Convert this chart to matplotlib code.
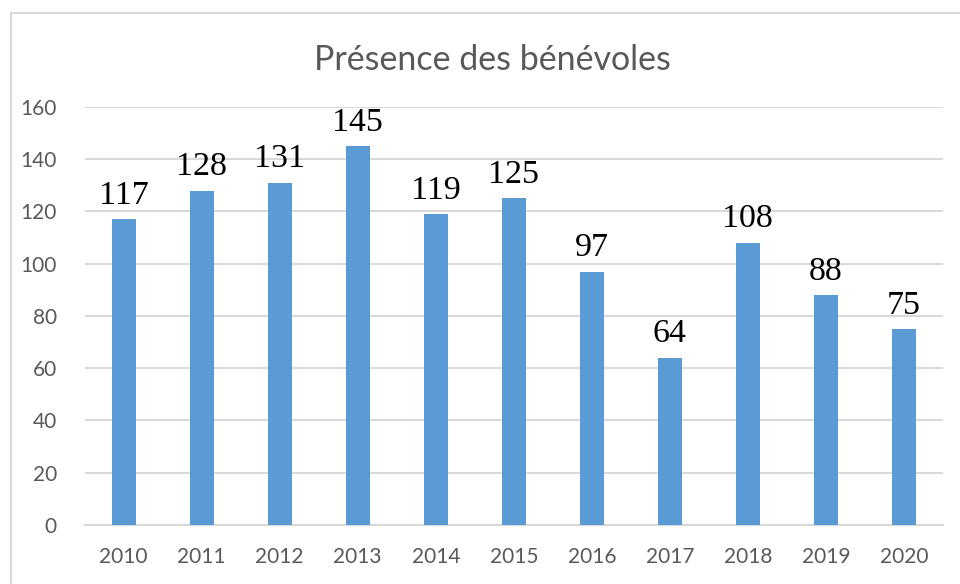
import matplotlib.pyplot as plt
from matplotlib.patches import Rectangle

years = ["2010", "2011", "2012", "2013", "2014", "2015", "2016", "2017", "2018", "2019", "2020"]
benevoles = [117, 128, 131, 145, 119, 125, 97, 64, 108, 88, 75]
y_ticks = [0, 20, 40, 60, 80, 100, 120, 140, 160]

BLUE = "#5B9BD5"
GRAY_TXT = "#595959"
GRID = "#D9D9D9"

plt.rcParams['font.family'] = ['Lato', 'DejaVu Sans']

fig = plt.figure(figsize=(9.6, 5.84), dpi=100)
ax = fig.add_axes([0.0882, 0.101, 0.894, 0.716])

# chart border like the Excel frame
fig.patches.append(Rectangle((11 / 960, -0.1), 1.2, (584 - 13) / 584 + 0.1,
                             transform=fig.transFigure, fill=False,
                             edgecolor=GRID, linewidth=1.5))

x = range(len(years))
ax.bar(x, benevoles, width=0.31, color=BLUE, zorder=3)
for i, v in zip(x, benevoles):
    ax.annotate(str(v), (i, v), xytext=(0, 6), textcoords="offset points",
                ha="center", va="bottom", fontsize=24.5,
                family=["Liberation Serif", "DejaVu Serif"], color="black")

ax.set_xlim(-0.5, len(years) - 0.5)
ax.set_ylim(0, 160)
ax.set_yticks(y_ticks)
ax.set_xticks(list(x))
ax.set_xticklabels(years)
ax.yaxis.grid(True, color=GRID, linewidth=1.5, zorder=0)
ax.set_axisbelow(True)
for s in ["top", "right", "left"]:
    ax.spines[s].set_visible(False)
ax.spines["bottom"].set_color(GRID)
ax.spines["bottom"].set_linewidth(1.5)
ax.tick_params(axis="both", length=0, labelsize=15, labelcolor=GRAY_TXT)
ax.tick_params(axis="x", pad=16)
ax.tick_params(axis="y", pad=20)

fig.text(492 / 960, 1 - 60 / 584, "Présence des bénévoles", ha="center", va="center",
         fontsize=24.5, color=GRAY_TXT)

fig.savefig("out.png", dpi=100)
